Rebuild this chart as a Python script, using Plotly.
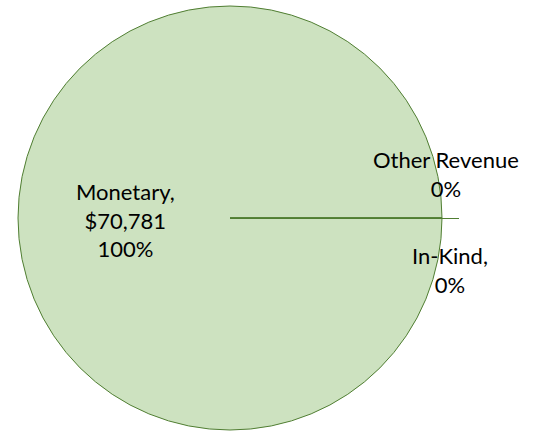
import plotly.graph_objects as go

labels = ["Monetary", "Other Revenue", "In-Kind"]
values = [70781, 0, 0]
label_texts = ["Monetary,<br>$70,781<br>100%", "Other Revenue<br>0%", "In-Kind,<br>0%"]

W, H = 535, 431
fill = "#CDE2C0"
edge = "#507E32"


def px(x):
    return x / W


def py(y):
    return 1 - y / H


fig = go.Figure()
fig.add_trace(go.Pie(
    labels=labels, values=values, sort=False, direction="clockwise", rotation=90,
    textinfo="none", hoverinfo="label+value+percent",
    marker=dict(colors=[fill, fill, fill], line=dict(color=edge, width=1)),
    domain=dict(x=[px(18), px(442)], y=[py(430), py(6)]),
    showlegend=False,
))

# label positions (pixel centres) for each slice's data label
label_pos = [(125, 220), (446, 174), (450, 270)]
for txt, (lx, ly) in zip(label_texts, label_pos):
    fig.add_annotation(
        x=px(lx), y=py(ly), xref="paper", yref="paper",
        text=txt, showarrow=False, xanchor="center", yanchor="middle",
        font=dict(family="Lato, Carlito, sans-serif", size=22, color="#000000"),
    )

# slice boundary / leader line
fig.add_shape(type="line", xref="paper", yref="paper",
              x0=px(230), x1=px(459), y0=py(218.5), y1=py(218.5),
              line=dict(color=edge, width=1))

fig.update_layout(
    width=W, height=H, margin=dict(l=0, r=0, t=0, b=0),
    paper_bgcolor="white", plot_bgcolor="white",
)
fig.write_html("out.html", config={"displayModeBar": False},
               post_script="document.body.style.margin='0';")
